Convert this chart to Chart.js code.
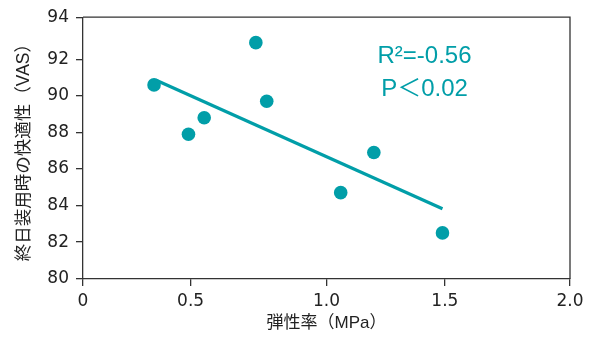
<!DOCTYPE html>
<html>
<head>
<meta charset="utf-8">
<script src="https://cdn.jsdelivr.net/npm/chart.js@4"></script>
<style>
  html, body { margin: 0; padding: 0; background: #fff; }
  #wrap { width: 593px; height: 337px; }
</style>
</head>
<body>
<div id="wrap"><canvas id="chart"></canvas></div>
<script>
// data
const modulus = [0.33, 0.49, 0.55, 0.74, 0.78, 1.06, 1.20, 1.49];   // 弾性率 (MPa)
const comfort = [90.6, 87.9, 88.8, 92.8, 89.7, 84.7, 86.9, 82.5];   // VAS
const fitX = [0.34, 1.49];
const fitY = [90.86, 83.82];
const xTicks = [0, 0.5, 1.0, 1.5, 2.0];
const xTickLabels = ["0", "0.5", "1.0", "1.5", "2.0"];
const yTicks = [80, 82, 84, 86, 88, 90, 92, 94];
const statLines = ["R²=-0.56", "P＜0.02"];

const teal = "#019ea8";
const ink = "#333";
const fontFamily = "'Liberation Sans', 'Noto Sans CJK JP', sans-serif";
const tickFamily = "'DejaVu Sans', 'Liberation Sans', sans-serif";

// the printed axes are not evenly spaced, so ticks sit at these fractions of the axis
const tickSpacing = {
  x: [0, 0.221, 0.5, 0.743, 1],
  y: [0, 0.141, 0.281, 0.4205, 0.56, 0.70, 0.838, 1]
};
const tickValues = { x: xTicks, y: yTicks };

class PiecewiseScale extends Chart.LinearScale {
  _toDecimal(v) {
    const vals = tickValues[this.axis], fr = tickSpacing[this.axis];
    let i = 0;
    while (i < vals.length - 2 && v > vals[i + 1]) i++;
    const t = (v - vals[i]) / (vals[i + 1] - vals[i]);
    return fr[i] + t * (fr[i + 1] - fr[i]);
  }
  getPixelForValue(value) {
    if (value === null || value === undefined) return NaN;
    return this.getPixelForDecimal(this._toDecimal(value));
  }
  getValueForPixel(pixel) {
    const d = this.getDecimalForPixel(pixel);
    const vals = tickValues[this.axis], fr = tickSpacing[this.axis];
    let i = 0;
    while (i < fr.length - 2 && d > fr[i + 1]) i++;
    const t = (d - fr[i]) / (fr[i + 1] - fr[i]);
    return vals[i] + t * (vals[i + 1] - vals[i]);
  }
}
PiecewiseScale.id = "piecewise";
Chart.register(PiecewiseScale);

// closes the frame on top and right, and writes the statistics
const framePlugin = {
  id: "frame",
  afterDatasetsDraw(chart) {
    const { ctx, chartArea: a } = chart;
    ctx.save();
    ctx.strokeStyle = ink;
    ctx.lineWidth = 1.3;
    ctx.beginPath();
    ctx.moveTo(a.left, a.top);
    ctx.lineTo(a.right, a.top);
    ctx.lineTo(a.right, a.bottom);
    ctx.stroke();

    ctx.fillStyle = teal;
    ctx.font = "24px " + fontFamily;
    ctx.textAlign = "center";
    ctx.textBaseline = "alphabetic";
    ctx.fillText(statLines[0], 424.5, 62.5);
    ctx.fillText(statLines[1], 424.5, 95.5);
    ctx.restore();
  }
};

const axisGrid = {
  display: true,
  drawOnChartArea: false,
  drawTicks: true,
  tickLength: 7,
  color: ink,
  lineWidth: 1.3
};

new Chart(document.getElementById("chart"), {
  type: "scatter",
  data: {
    datasets: [
      {
        label: "VAS",
        data: modulus.map((x, i) => ({ x: x, y: comfort[i] })),
        backgroundColor: teal,
        borderColor: teal,
        pointRadius: 6.8,
        pointHoverRadius: 6.8,
        borderWidth: 0
      },
      {
        type: "line",
        label: "fit",
        data: fitX.map((x, i) => ({ x: x, y: fitY[i] })),
        borderColor: teal,
        borderWidth: 3.2,
        pointRadius: 0,
        fill: false
      }
    ]
  },
  options: {
    responsive: true,
    maintainAspectRatio: false,
    animation: false,
    layout: { padding: { left: 0, right: 23, top: 17, bottom: 0 } },
    plugins: {
      legend: { display: false },
      tooltip: { enabled: false }
    },
    scales: {
      x: {
        type: "piecewise",
        min: 0,
        max: 2,
        afterBuildTicks: s => { s.ticks = xTicks.map(v => ({ value: v })); },
        afterFit: s => { s.height = 58; },
        grid: axisGrid,
        border: { display: true, color: ink, width: 1.3 },
        ticks: {
          padding: 5,
          color: "#222",
          font: { family: tickFamily, size: 17 },
          callback: (v, i) => xTickLabels[i]
        },
        title: {
          display: true,
          text: "弾性率（MPa）",
          color: "#222",
          font: { family: fontFamily, size: 17 },
          padding: { top: 0, bottom: 3 }
        }
      },
      y: {
        type: "piecewise",
        min: 80,
        max: 94,
        afterBuildTicks: s => { s.ticks = yTicks.map(v => ({ value: v })); },
        afterFit: s => { s.width = 83; },
        grid: axisGrid,
        border: { display: true, color: ink, width: 1.3 },
        ticks: {
          padding: 7,
          color: "#222",
          font: { family: tickFamily, size: 17 },
          callback: v => String(v)
        },
        title: {
          display: true,
          text: "終日装用時の快適性（VAS）",
          color: "#222",
          font: { family: fontFamily, size: 17.5 },
          padding: { top: 14, bottom: 0 }
        }
      }
    }
  },
  plugins: [framePlugin]
});
</script>
</body>
</html>
